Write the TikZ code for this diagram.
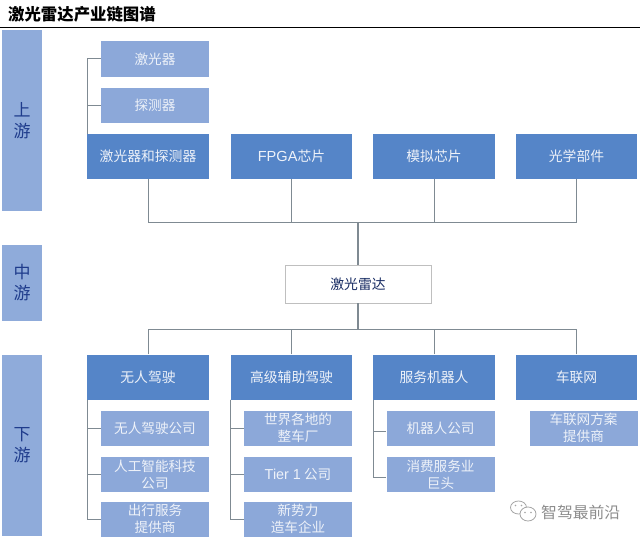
\documentclass[tikz,border=0pt]{standalone}
\usepackage{fontspec}
\setmainfont{Noto Sans CJK SC}
\newfontfamily\latinfont{Liberation Sans}
\usepackage{tikz}
\definecolor{sidefill}{HTML}{8FABDA}
\definecolor{headfill}{HTML}{5585C8}
\definecolor{subfill}{HTML}{8CA8D9}
\definecolor{boxtext}{HTML}{EEF2F9}
\definecolor{sidetext}{HTML}{1F3C8C}
\definecolor{linkgray}{HTML}{7F8A92}
\tikzstyle{sidebox}=[fill=sidefill, text=sidetext, minimum width=40pt, inner sep=0pt, align=center, font=\fontsize{17}{21}\selectfont]
\tikzstyle{headbox}=[fill=headfill, text=boxtext, minimum width=121.5pt, minimum height=45pt, inner sep=0pt, font=\fontsize{13.8}{16}\selectfont]
\tikzstyle{subbox}=[fill=subfill, text=boxtext, minimum width=108pt, minimum height=35pt, inner sep=0pt, align=center, font=\fontsize{13.6}{16.6}\selectfont]
\tikzstyle{link}=[color=linkgray, line width=1pt]
\tikzstyle{trunk}=[color=linkgray, line width=1.6pt]
\tikzstyle{bubble}=[draw=black!35, line width=.8pt, fill=white]
\begin{document}
\begin{tikzpicture}[x=1pt, y=-1pt]
\useasboundingbox (0,0) rectangle (640,540);

% title
\node[anchor=west, inner sep=0pt, font=\fontsize{16.4}{18}\selectfont\bfseries] (title) at (8,14) {激光雷达产业链图谱};
\coordinate (ruleleft) at (0,27.5);
\coordinate (ruleright) at (640,27.5);
\draw[line width=1.4pt] (ruleleft)--(ruleright);

% stages
\node[sidebox, minimum height=181pt] (up) at (22,120.5) {上\\游};
\node[sidebox, minimum height=76pt] (mid) at (22,283) {中\\游};
\node[sidebox, minimum height=181pt] (down) at (22,445.5) {下\\游};

% upstream
\node[subbox, minimum height=36pt] (laser) at (155,59) {激光器};
\node[subbox] (detector) at (155,105.5) {探测器};
\node[headbox] (laserdet) at (148,156.5) {激光器和探测器};
\node[headbox] (fpga) at (291.5,156.5) {{\latinfont\fontsize{14.6}{16}\selectfont FPGA}芯片};
\node[headbox] (analog) at (434,156.5) {模拟芯片};
\node[headbox] (optics) at (576.5,156.5) {光学部件};

% lidar
\node[fill=white, draw=black!25, line width=.8pt, minimum width=146pt, minimum height=38pt, inner sep=0pt, text=sidetext!70!black, font=\fontsize{13.8}{16}\selectfont] (lidar) at (358,284) {激光雷达};
\coordinate (busup) at (358,222.5);
\coordinate (busdown) at (358,329);

% downstream
\node[headbox] (auto) at (148,377) {无人驾驶};
\node[headbox] (adas) at (291.5,377) {高级辅助驾驶};
\node[headbox] (robot) at (434,377) {服务机器人};
\node[headbox] (iov) at (576.5,377) {车联网};

\node[subbox] (autoco) at (155,428) {无人驾驶公司};
\node[subbox] (aico) at (155,474.5) {人工智能科技\\公司};
\node[subbox] (rideco) at (155,519) {出行服务\\提供商};
\node[subbox] (oem) at (298,428) {世界各地的\\整车厂};
\node[subbox] (tier) at (298,474.5) {{\latinfont\fontsize{14.4}{16}\selectfont Tier 1} 公司};
\node[subbox] (newcar) at (298,519) {新势力\\造车企业};
\node[subbox] (robotco) at (440.5,428) {机器人公司};
\node[subbox] (consumer) at (440.5,474.5) {消费服务业\\巨头};
\node[subbox] (iovco) at (583.5,428) {车联网方案\\提供商};

% links
\foreach \n in {laserdet,fpga,analog,optics}
\draw[link] (\n.south) |- (busup);
\draw[trunk] (busup)--(lidar.north);
\draw[trunk] (lidar.south)--(busdown);
\foreach \n in {auto,adas,robot,iov}
\draw[link] (\n.north) |- (busdown);

\draw[link] (laserdet.north west) |- (laser.west);
\draw[link] (laserdet.north west) |- (detector.west);
\draw[link] (auto.south west) |- (autoco.west);
\draw[link] (auto.south west) |- (aico.west);
\draw[link] (auto.south west) |- (rideco.west);
\draw[link] (adas.south west) |- (oem.west);
\draw[link] (adas.south west) |- (tier.west);
\draw[link] (adas.south west) |- (newcar.west);
\draw[link] (robot.south west) |- ([yshift=-3pt]robotco.west);
\draw[link] (robot.south west) |- ([yshift=-2.5pt]consumer.west);

% watermark
\draw[bubble] (518.5,507.5) ellipse (8pt and 6.5pt);
\fill[black!35] (515.5,505.5) circle (.9pt) (521.5,505.5) circle (.9pt);
\draw[bubble] (528,514) ellipse (8pt and 7pt);
\fill[black!35] (525,512.5) circle (.9pt) (531,512.5) circle (.9pt);
\node[anchor=west, inner sep=0pt, text=black!45, font=\fontsize{15.8}{18}\selectfont] (mark) at (541,512) {智驾最前沿};
\end{tikzpicture}
\end{document}
